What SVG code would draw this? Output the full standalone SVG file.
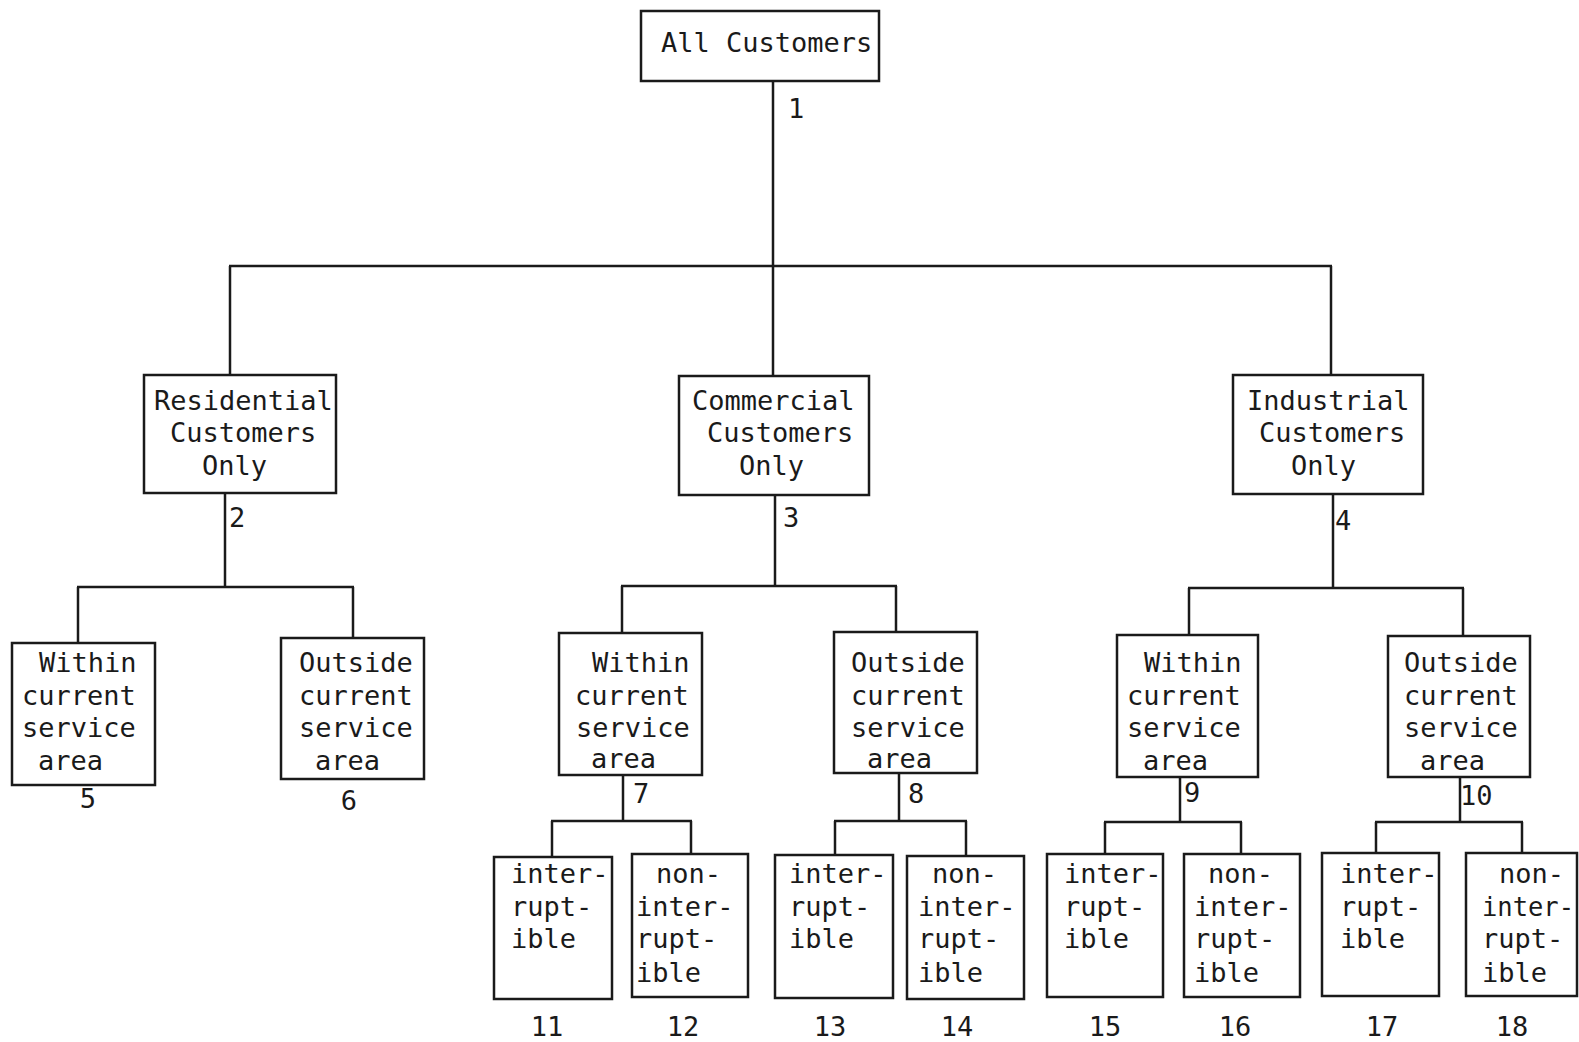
<svg xmlns="http://www.w3.org/2000/svg" width="1579" height="1042" viewBox="0 0 1579 1042">
<style>
.b{fill:none;stroke:#1a1a1a;stroke-width:2.5}
.c line{stroke:#1a1a1a;stroke-width:2.5}
text{font-family:"DejaVu Sans Mono","Liberation Mono",monospace;font-size:27px;fill:#1a1a1a}
.n{text-anchor:middle}
</style>
<rect width="1579" height="1042" fill="#fff"/>
<g id="connectors" class="c">
<line x1="773" y1="81" x2="773" y2="376"/>
<line x1="229" y1="266" x2="1332" y2="266"/>
<line x1="230" y1="266" x2="230" y2="375"/>
<line x1="1331" y1="266" x2="1331" y2="375"/>
<line x1="225" y1="493" x2="225" y2="587"/>
<line x1="77" y1="587" x2="354" y2="587"/>
<line x1="78" y1="587" x2="78" y2="643"/>
<line x1="353" y1="587" x2="353" y2="638"/>
<line x1="775" y1="495" x2="775" y2="586"/>
<line x1="621" y1="586" x2="897" y2="586"/>
<line x1="622" y1="586" x2="622" y2="633"/>
<line x1="896" y1="586" x2="896" y2="632"/>
<line x1="1333" y1="494" x2="1333" y2="588"/>
<line x1="1188" y1="588" x2="1464" y2="588"/>
<line x1="1189" y1="588" x2="1189" y2="635"/>
<line x1="1463" y1="588" x2="1463" y2="636"/>
<line x1="623" y1="775" x2="623" y2="821"/>
<line x1="551" y1="821" x2="692" y2="821"/>
<line x1="552" y1="821" x2="552" y2="857"/>
<line x1="691" y1="821" x2="691" y2="854"/>
<line x1="899" y1="773" x2="899" y2="821"/>
<line x1="834" y1="821" x2="967" y2="821"/>
<line x1="835" y1="821" x2="835" y2="855"/>
<line x1="966" y1="821" x2="966" y2="856"/>
<line x1="1180" y1="777" x2="1180" y2="822"/>
<line x1="1104" y1="822" x2="1242" y2="822"/>
<line x1="1105" y1="822" x2="1105" y2="854"/>
<line x1="1241" y1="822" x2="1241" y2="854"/>
<line x1="1460" y1="777" x2="1460" y2="822"/>
<line x1="1375" y1="822" x2="1523" y2="822"/>
<line x1="1376" y1="822" x2="1376" y2="853"/>
<line x1="1522" y1="822" x2="1522" y2="853"/>
</g>
<g id="edge-labels">
<text x="788" y="118">1</text>
<text x="229" y="527">2</text>
<text x="783" y="527">3</text>
<text x="1335" y="530">4</text>
<text class="n" x="88" y="808">5</text>
<text class="n" x="349" y="810">6</text>
<text x="633" y="803">7</text>
<text x="908" y="803">8</text>
<text x="1184" y="802">9</text>
<text x="1460" y="805">10</text>
<text class="n" x="547" y="1036">11</text>
<text class="n" x="683" y="1036">12</text>
<text class="n" x="830" y="1036">13</text>
<text class="n" x="957" y="1036">14</text>
<text class="n" x="1105" y="1036">15</text>
<text class="n" x="1235" y="1036">16</text>
<text class="n" x="1382" y="1036">17</text>
<text class="n" x="1512" y="1036">18</text>
</g>
<g id="n1"><rect class="b" x="641" y="11" width="238" height="70"/><text x="661" y="52">All Customers</text></g>
<g id="n2"><rect class="b" x="144" y="375" width="192" height="118"/><text x="154" y="410">Residential</text><text x="170" y="442">Customers</text><text x="202" y="475">Only</text></g>
<g id="n3"><rect class="b" x="679" y="376" width="190" height="119"/><text x="692" y="410">Commercial</text><text x="707" y="442">Customers</text><text x="739" y="475">Only</text></g>
<g id="n4"><rect class="b" x="1233" y="375" width="190" height="119"/><text x="1247" y="410">Industrial</text><text x="1259" y="442">Customers</text><text x="1291" y="475">Only</text></g>
<g id="n5"><rect class="b" x="12" y="643" width="143" height="142"/><text x="39" y="672">Within</text><text x="22" y="705">current</text><text x="22" y="737">service</text><text x="38" y="770">area</text></g>
<g id="n6"><rect class="b" x="281" y="638" width="143" height="141"/><text x="299" y="672">Outside</text><text x="299" y="705">current</text><text x="299" y="737">service</text><text x="315" y="770">area</text></g>
<g id="n7"><rect class="b" x="559" y="633" width="143" height="142"/><text x="592" y="672">Within</text><text x="575" y="705">current</text><text x="576" y="737">service</text><text x="591" y="768">area</text></g>
<g id="n8"><rect class="b" x="834" y="632" width="143" height="141"/><text x="851" y="672">Outside</text><text x="851" y="705">current</text><text x="851" y="737">service</text><text x="867" y="768">area</text></g>
<g id="n9"><rect class="b" x="1117" y="635" width="141" height="142"/><text x="1144" y="672">Within</text><text x="1127" y="705">current</text><text x="1127" y="737">service</text><text x="1143" y="770">area</text></g>
<g id="n10"><rect class="b" x="1388" y="636" width="142" height="141"/><text x="1404" y="672">Outside</text><text x="1404" y="705">current</text><text x="1404" y="737">service</text><text x="1420" y="770">area</text></g>
<g id="n11"><rect class="b" x="494" y="857" width="118" height="142"/><text x="511" y="883">inter-</text><text x="511" y="916">rupt-</text><text x="511" y="948">ible</text></g>
<g id="n12"><rect class="b" x="632" y="854" width="116" height="143"/><text x="656" y="883">non-</text><text x="636" y="916">inter-</text><text x="636" y="948">rupt-</text><text x="636" y="982">ible</text></g>
<g id="n13"><rect class="b" x="775" y="855" width="118" height="143"/><text x="789" y="883">inter-</text><text x="789" y="916">rupt-</text><text x="789" y="948">ible</text></g>
<g id="n14"><rect class="b" x="907" y="856" width="117" height="143"/><text x="932" y="883">non-</text><text x="918" y="916">inter-</text><text x="918" y="948">rupt-</text><text x="918" y="982">ible</text></g>
<g id="n15"><rect class="b" x="1047" y="854" width="116" height="143"/><text x="1064" y="883">inter-</text><text x="1064" y="916">rupt-</text><text x="1064" y="948">ible</text></g>
<g id="n16"><rect class="b" x="1184" y="854" width="116" height="143"/><text x="1208" y="883">non-</text><text x="1194" y="916">inter-</text><text x="1194" y="948">rupt-</text><text x="1194" y="982">ible</text></g>
<g id="n17"><rect class="b" x="1322" y="853" width="117" height="143"/><text x="1340" y="883">inter-</text><text x="1340" y="916">rupt-</text><text x="1340" y="948">ible</text></g>
<g id="n18"><rect class="b" x="1466" y="853" width="111" height="143"/><text x="1499" y="883">non-</text><text x="1482" y="916" textLength="92" lengthAdjust="spacingAndGlyphs">inter-</text><text x="1482" y="948">rupt-</text><text x="1482" y="982">ible</text></g>
</svg>
